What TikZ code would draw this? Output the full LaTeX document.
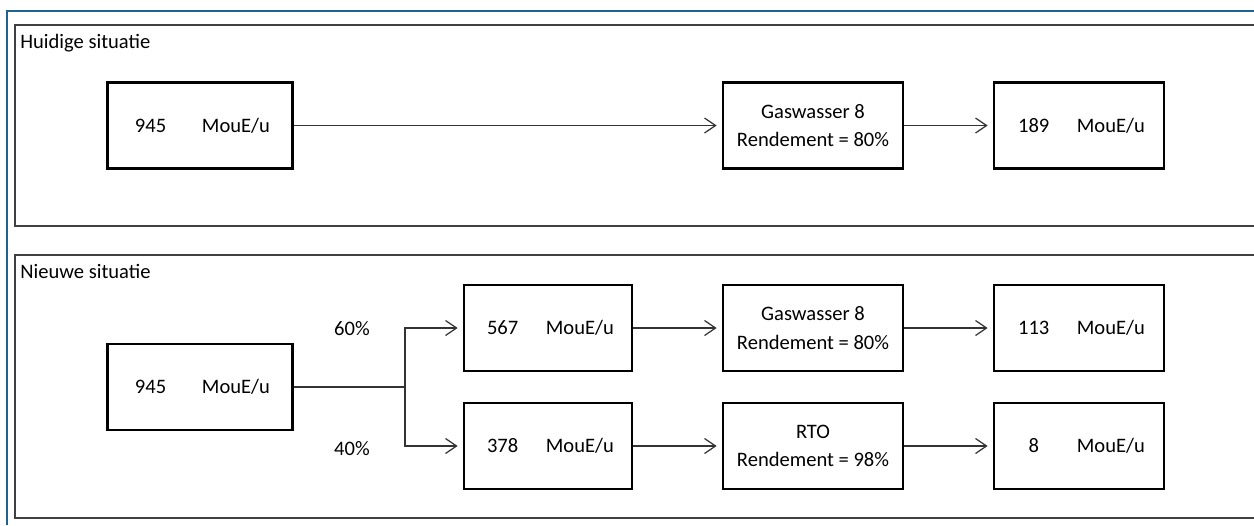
\documentclass[tikz,border=0pt]{standalone}
\usepackage{fontspec}
\setmainfont{Carlito}
\usetikzlibrary{arrows.meta,positioning}
\definecolor{KaderBlauw}{HTML}{1F6391}
\definecolor{KaderGrijs}{HTML}{404040}
\newcommand{\debiet}[2][1.1em]{\makebox[2em][c]{#2}\hspace{#1}MouE/u}

\begin{document}
\begin{tikzpicture}[
  x=0.02cm, y=-0.02cm,
  font=\fontsize{11.7}{16}\selectfont,
  blok/.style={draw, line width=1.6pt, minimum height=1.72cm, align=center, inner sep=0pt},
  invoer/.style={blok, minimum width=3.7cm},
  deel/.style={blok, minimum width=3.36cm},
  proces/.style={blok, minimum width=3.6cm},
  uitvoer/.style={blok, minimum width=3.4cm},
  kader/.style={line width=0.85pt, color=KaderGrijs},
  lijn/.style={line width=0.7pt, color=black!80},
  pijl/.style={lijn, -{Straight Barb[length=0.22cm, width=0.3cm]}, shorten >=0.1cm}
]
  \useasboundingbox (0,0) rectangle (1254,525);
  % kaders
  \draw[line width=1.1pt, KaderBlauw] (1254,11) -- (7,11) -- (7,525);
  \draw[kader] (1254,25) -- (15,25) -- (15,226) -- (1254,226);
  \draw[kader] (1254,255) -- (15,255) -- (15,518) -- (1254,518);
  \node[anchor=base west, inner sep=0pt] (titelhuidig) at (20,48) {Huidige situatie};
  \node[anchor=base west, inner sep=0pt] (titelnieuw) at (20,278) {Nieuwe situatie};

  % huidige situatie
  \node[invoer] (in1) at (200,125.5) {\debiet[1.5em]{945}};
  \node[proces] (gw1) at (813,125.5) {Gaswasser 8\\Rendement = 80\%};
  \node[uitvoer] (uit1) at (1079,125.5) {\debiet{189}};
  \draw[pijl] (in1) -- (gw1);
  \draw[pijl] (gw1) -- (uit1);

  % nieuwe situatie
  \node[invoer] (in2) at (200,387) {\debiet[1.5em]{945}};
  \coordinate (splits) at (405,387);
  \node (pct1) at (352,329) {60\%};
  \node (pct2) at (352,449) {40\%};
  \node[deel] (deel1) at (548,328) {\debiet{567}};
  \node[deel] (deel2) at (548,446) {\debiet{378}};
  \node[proces] (gw2) at (813,328) {Gaswasser 8\\Rendement = 80\%};
  \node[proces] (rto) at (813,446) {RTO\\Rendement = 98\%};
  \node[uitvoer] (uit2) at (1079,328) {\debiet{113}};
  \node[uitvoer] (uit3) at (1079,446) {\debiet{8}};

  \draw[lijn] (in2) -- (splits);
  \draw[pijl] (splits) |- (deel1);
  \draw[pijl] (splits) |- (deel2);
  \draw[pijl] (deel1) -- (gw2);
  \draw[pijl] (deel2) -- (rto);
  \draw[pijl] (gw2) -- (uit2);
  \draw[pijl] (rto) -- (uit3);
\end{tikzpicture}
\end{document}
